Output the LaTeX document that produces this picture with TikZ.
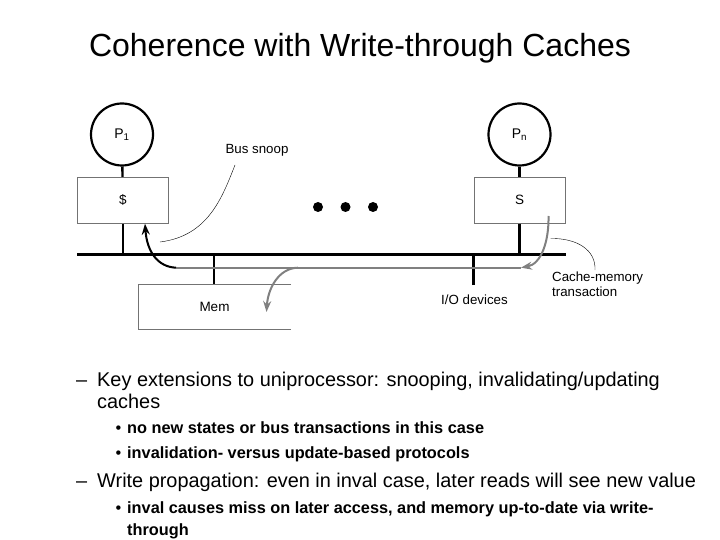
\documentclass[tikz,border=0pt]{standalone}
\usepackage{fontspec}
\setmainfont{Liberation Sans}
\usetikzlibrary{positioning,arrows.meta}

\tikzset{
	proc/.style={circle, draw, line width=2.2pt, minimum size=62pt, inner sep=0pt, font=\fontsize{14}{16}\selectfont},
	cache/.style={rectangle, draw=black!55, line width=0.8pt, minimum width=91pt, minimum height=46pt, font=\fontsize{13.5}{15}\selectfont},
	etiqueta/.style={font=\fontsize{13.3}{15.5}\selectfont, inner sep=1pt},
	punto/.style={circle, fill=black, minimum size=10pt, inner sep=0pt},
	nivelA/.style={anchor=base west, inner sep=0pt, font=\fontsize{19.9}{22}\selectfont},
	nivelB/.style={anchor=base west, inner sep=0pt, font=\fontsize{16.3}{19}\selectfont\bfseries},
}

\begin{document}
\begin{tikzpicture}[x=1pt, y=-1pt]
	\useasboundingbox (0,0) rectangle (720,540);
	
	% Titulo
		\node[anchor=base, inner sep=0pt, font=\fontsize{32}{36}\selectfont] (titulo) at (360,57) {Coherence with Write-through Caches};
	
	% Procesadores y caches
		\node[proc] (p1) at (122,134.5) {P\textsubscript{1}};
		\node[proc] (pn) at (519.5,134.5) {P\textsubscript{n}};
		\node[cache] (c1) at (122.8,200.3) {\$};
		\node[cache] (cn) at (519.5,200.3) {S};
		\draw[line width=2.4pt] (p1) -- (c1);
		\draw[line width=2.4pt] (pn) -- (cn);
	
	% Bus
		\coordinate (busL) at (77,254);
		\coordinate (busR) at (566,254);
		\draw[line width=3pt] (busL) -- (busR);
		\draw[line width=2.4pt] (c1.south) -- (c1.south |- busL);
		\draw[line width=2.4pt] (cn.south) -- (cn.south |- busL);
	
	% Memoria y E/S
		\node[cache, draw=none, minimum width=152.4pt, minimum height=45pt] (mem) at (214.5,306.8) {Mem};
		\draw[black!55, line width=0.8pt] (mem.north east) -- (mem.north west) -- (mem.south west) -- (mem.south east);
		\draw[line width=2.4pt] (mem.north -| 214,0) -- (214,254);
		\coordinate (io) at (473.3,285);
		\draw[line width=2.4pt] (io) -- (io |- busL);
		\node[etiqueta] (iolbl) at (474.5,299.5) {I/O devices};
	
	% Puntos
		\node[punto] (d1) at (318,207) {};
		\node[punto] (d2) at (345.5,207) {};
		\node[punto] (d3) at (373,207) {};
	
	% Transaccion
		\coordinate (tA) at (176,267.7);
		\coordinate (tB) at (298,267.7);
		\coordinate (tC) at (548.5,216);
		\coordinate (tD) at (521,267.7);
		\draw[black!50, line width=2pt] (tA) -- (tD);
		\draw[-{Stealth[length=11pt, width=8pt]}, line width=2pt] (tA) .. controls (158,267) and (147,252) .. (c1.south -| 145,0);
		\draw[-{Stealth[length=11pt, width=8pt]}, black!50, line width=2pt] (tB) .. controls (279,268) and (268,288) .. (266.5,312);
		\draw[-{Stealth[length=11pt, width=8pt]}, black!50, line width=2pt] (tC) .. controls (549,242) and (541,264) .. (tD);
	
	% Etiquetas
		\node[etiqueta] (snoop) at (257,150) {Bus snoop};
		\draw[thin] (235,165) .. controls (222,198) and (208,236) .. (160,242);
		\node[etiqueta, align=left, anchor=north west] (cmt) at (551,270.5) {Cache-memory\\transaction};
		\draw[thin] (595,270) .. controls (596,250) and (577,238) .. (550.5,238.5);
	
	% Texto
		\node[nivelA] (guion1) at (76,386) {–};
		\node[nivelA] (k1) at (97,386) {Key extensions to uniprocessor: snooping, invalidating/updating};
		\node[nivelA] (k2) at (97,408) {caches};
		\node[nivelB] (b1) at (115.5,433) {\mdseries•};
		\node[nivelB] (s1) at (127,433) {no new states or bus transactions in this case};
		\node[nivelB] (b2) at (115.5,458) {\mdseries•};
		\node[nivelB] (s2) at (127,458) {invalidation- versus update-based protocols};
		\node[nivelA] (guion2) at (76,487) {–};
		\node[nivelA] (w1) at (97,487) {Write propagation: even in inval case, later reads will see new value};
		\node[nivelB] (b3) at (115.5,513) {\mdseries•};
		\node[nivelB] (s3) at (127,513) {inval causes miss on later access, and memory up-to-date via write-};
		\node[nivelB] (s4) at (127,535) {through};
\end{tikzpicture}
\end{document}
